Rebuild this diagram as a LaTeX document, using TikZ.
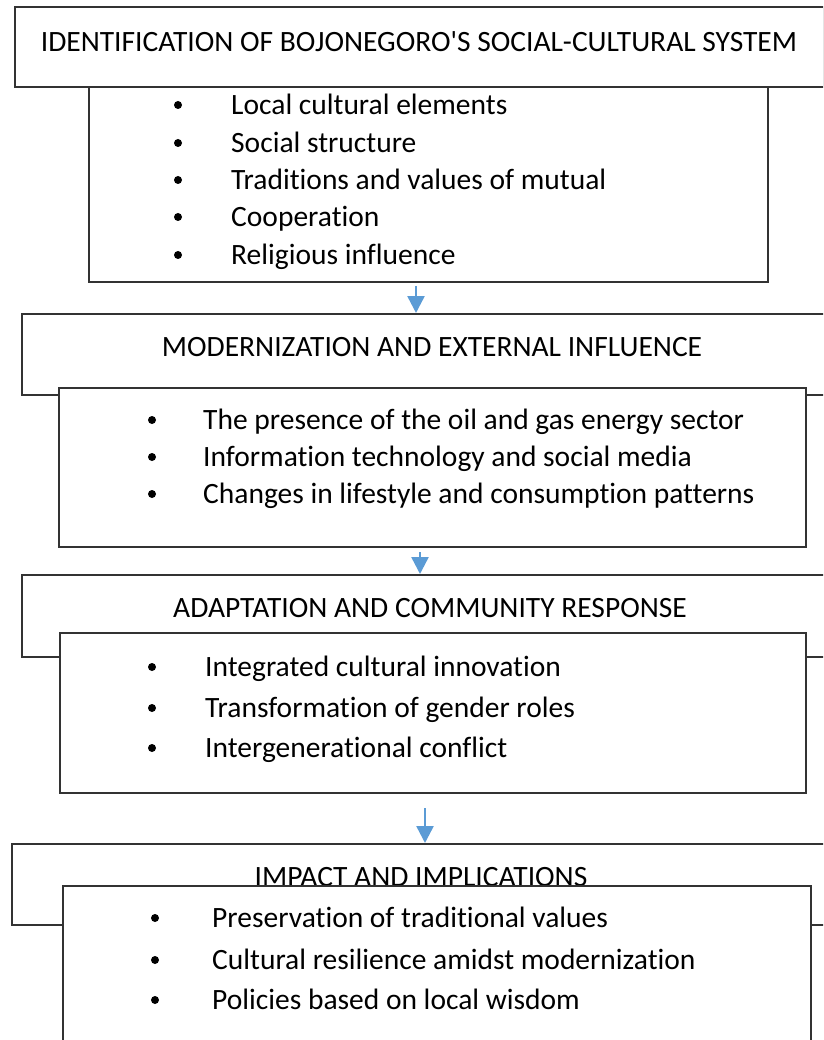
\documentclass[tikz,border=0pt]{standalone}
\usepackage{fontspec}
\setmainfont{Carlito}[Ligatures={TeX,NoCommon}]
\usetikzlibrary{arrows.meta}
\definecolor{flowblue}{RGB}{91,155,213}

\begin{document}
\begin{tikzpicture}[x=1pt,y=-1pt,
  frame/.style={draw=black!80, line width=2pt, fill=white, inner sep=0pt},
  title/.style={font=\fontsize{29.5}{34}\selectfont, inner sep=0pt},
  entry/.style={font=\fontsize{29.5}{34}\selectfont, anchor=base west, inner sep=0pt},
  dot/.style={circle, fill=black, inner sep=0pt, minimum size=8pt},
  flow/.style={draw=flowblue, line width=2.5pt, -{Triangle[width=17pt,length=17pt]}}]

  \clip (0,0) rectangle (823,1040);

  % identification
  \node[frame, minimum width=809pt, minimum height=80pt] (h1) at (419.5,47) {};
  \node[title] (t1) at (419,42) {IDENTIFICATION OF BOJONEGORO\textquotesingle S SOCIAL-CULTURAL SYSTEM};
  \node[frame, minimum width=679pt, minimum height=195pt] (b1) at (428.5,184.5) {};
  \foreach \y/\txt [count=\i] in {105/Local cultural elements, 143/Social structure,
      180/Traditions and values of mutual, 217/Cooperation, 255/Religious influence} {
    \node[dot] (d1\i) at (178,\y) {};
    \node[entry] (e1\i) at (231,\y+9.5) {\txt};
  }

  % modernization
  \node[frame, minimum width=820pt, minimum height=81pt] (h2) at (432,354.5) {};
  \node[title] (t2) at (432,347) {MODERNIZATION AND EXTERNAL INFLUENCE};
  \node[frame, minimum width=747pt, minimum height=159pt] (b2) at (432.5,467.5) {};
  \foreach \y/\txt [count=\i] in {420/The presence of the oil and gas energy sector,
      457/Information technology and social media,
      494/Changes in lifestyle and consumption patterns} {
    \node[dot] (d2\i) at (152,\y) {};
    \node[entry] (e2\i) at (203,\y+9.5) {\txt};
  }

  % adaptation
  \node[frame, minimum width=820pt, minimum height=82pt] (h3) at (432,616) {};
  \node[title] (t3) at (430,608) {ADAPTATION AND COMMUNITY RESPONSE};
  \node[frame, minimum width=746pt, minimum height=160pt] (b3) at (433,713) {};
  \foreach \y/\txt [count=\i] in {667/Integrated cultural innovation,
      708/Transformation of gender roles, 748/Intergenerational conflict} {
    \node[dot] (d3\i) at (152,\y) {};
    \node[entry] (e3\i) at (205,\y+9.5) {\txt};
  }

  % impact
  \node[frame, minimum width=818pt, minimum height=81pt] (h4) at (421,884.5) {};
  \node[title] (t4) at (421,877) {IMPACT AND IMPLICATIONS};
  \node[frame, minimum width=748pt, minimum height=174pt] (b4) at (437,973) {};
  \foreach \y/\txt [count=\i] in {918/Preservation of traditional values,
      960/Cultural resilience amidst modernization, 1000/Policies based on local wisdom} {
    \node[dot] (d4\i) at (155,\y) {};
    \node[entry] (e4\i) at (212,\y+9.5) {\txt};
  }

  % arrows
  \coordinate (a1) at (416,286);
  \coordinate (a2) at (420,552);
  \coordinate (a3) at (425,808);
  \draw[flow] (a1) -- (a1 |- h2.north);
  \draw[flow] (a2) -- (a2 |- h3.north);
  \draw[flow] (a3) -- (a3 |- h4.north);

\end{tikzpicture}
\end{document}
